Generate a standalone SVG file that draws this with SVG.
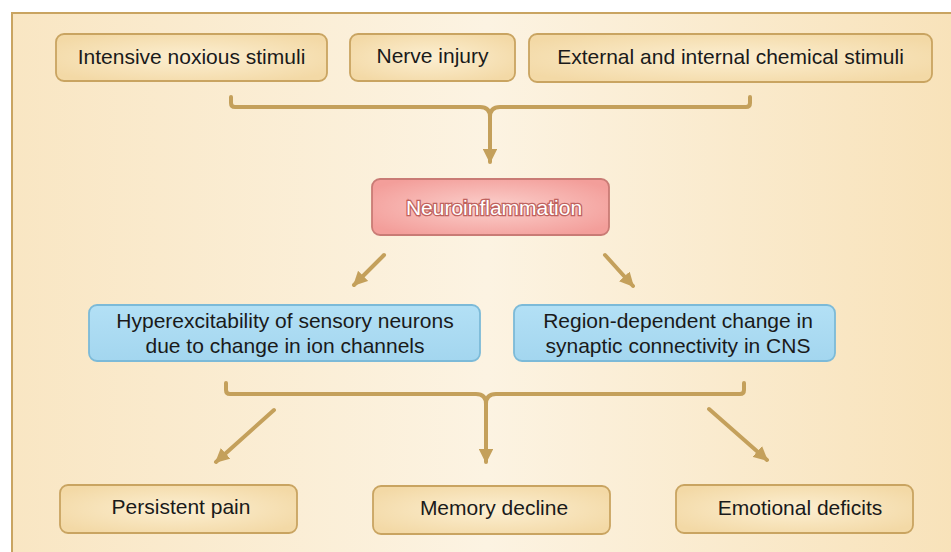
<svg xmlns="http://www.w3.org/2000/svg" width="951" height="552" viewBox="0 0 951 552">
<defs>
<linearGradient id="bg" x1="0" y1="0" x2="1" y2="0">
<stop offset="0" stop-color="#f9e6c3"/>
<stop offset="0.5" stop-color="#fcf3e2"/>
<stop offset="1" stop-color="#f8e2b9"/>
</linearGradient>
<radialGradient id="tan" cx="0.5" cy="0.5" r="0.6">
<stop offset="0" stop-color="#fcefd2"/>
<stop offset="1" stop-color="#f3d9a6"/>
</radialGradient>
<radialGradient id="pink" cx="0.5" cy="0.5" r="0.6">
<stop offset="0" stop-color="#fbd0cc"/>
<stop offset="1" stop-color="#f39e9a"/>
</radialGradient>
<linearGradient id="blue" x1="0" y1="0" x2="0" y2="1">
<stop offset="0" stop-color="#b3e0f5"/>
<stop offset="1" stop-color="#a3d6ef"/>
</linearGradient>
<marker id="ah" viewBox="0 0 10 10" refX="9" refY="5" markerWidth="3.6" markerHeight="3.6" orient="auto" markerUnits="strokeWidth">
<path d="M0,0 L10,5 L0,10 z" fill="#c4a05b"/>
</marker>
</defs>
<style>
.tan{fill:url(#tan);stroke:#c9a461;stroke-width:1.8}
.blue{fill:url(#blue);stroke:#7cbad8;stroke-width:1.8}
.pink{fill:url(#pink);stroke:#c97b75;stroke-width:1.8}
.t{font-family:"Liberation Sans",Arial,sans-serif;font-size:21px;fill:#1a1a1a;text-anchor:middle}
.c{fill:none;stroke:#c4a05b;stroke-width:4;stroke-linecap:round;stroke-linejoin:round}
.ni{font-family:"Liberation Sans",Arial,sans-serif;font-size:21px;fill:#ffffff;stroke:#c0625e;stroke-width:2.6;paint-order:stroke;text-anchor:middle}
</style>
<rect x="0" y="0" width="951" height="552" fill="#ffffff"/>
<rect x="12" y="13" width="950" height="550" fill="url(#bg)" stroke="#c9a461" stroke-width="2"/>

<g id="n-intensive"><rect class="tan" x="56" y="34" width="271" height="47" rx="8"/><text class="t" x="191.5" y="64">Intensive noxious stimuli</text></g>
<g id="n-nerve"><rect class="tan" x="350" y="34" width="165" height="47" rx="8"/><text class="t" x="432.5" y="63">Nerve injury</text></g>
<g id="n-external"><rect class="tan" x="529" y="34" width="403" height="48" rx="8"/><text class="t" x="730.5" y="64">External and internal chemical stimuli</text></g>
<g id="n-neuro"><rect class="pink" x="372" y="179" width="237" height="56" rx="8"/><text class="ni" x="494" y="215">Neuroinflammation</text></g>
<g id="n-hyper"><rect class="blue" x="89" y="305" width="391" height="56" rx="8"/><text class="t" x="285" y="328">Hyperexcitability of sensory neurons</text><text class="t" x="285" y="353">due to change in ion channels</text></g>
<g id="n-region"><rect class="blue" x="514" y="305" width="321" height="56" rx="8"/><text class="t" x="678" y="328">Region-dependent change in</text><text class="t" x="678" y="353">synaptic connectivity in CNS</text></g>
<g id="n-pain"><rect class="tan" x="60" y="485" width="237" height="48" rx="8"/><text class="t" x="181" y="514">Persistent pain</text></g>
<g id="n-memory"><rect class="tan" x="373" y="486" width="237" height="48" rx="8"/><text class="t" x="494" y="515">Memory decline</text></g>
<g id="n-emotional"><rect class="tan" x="676" y="485" width="237" height="48" rx="8"/><text class="t" x="800" y="515">Emotional deficits</text></g>

<g id="connectors">
<path class="c" d="M231,97 L231,103 Q231,107 235,107 L480,107 Q490,107 490,117 Q490,107 500,107 L746,107 Q750,107 750,103 L750,97"/>
<path class="c" d="M490,116 L490,162" marker-end="url(#ah)"/>
<path class="c" d="M384,255 L354,285" marker-end="url(#ah)"/>
<path class="c" d="M605,255 L633,286" marker-end="url(#ah)"/>
<path class="c" d="M226,383 L226,390 Q226,394 230,394 L476,394 Q486,394 486,404 Q486,394 496,394 L740,394 Q744,394 744,390 L744,383"/>
<path class="c" d="M486,403 L486,462" marker-end="url(#ah)"/>
<path class="c" d="M274,410 L216,462" marker-end="url(#ah)"/>
<path class="c" d="M709,409 L767,460" marker-end="url(#ah)"/>
</g>
</svg>
